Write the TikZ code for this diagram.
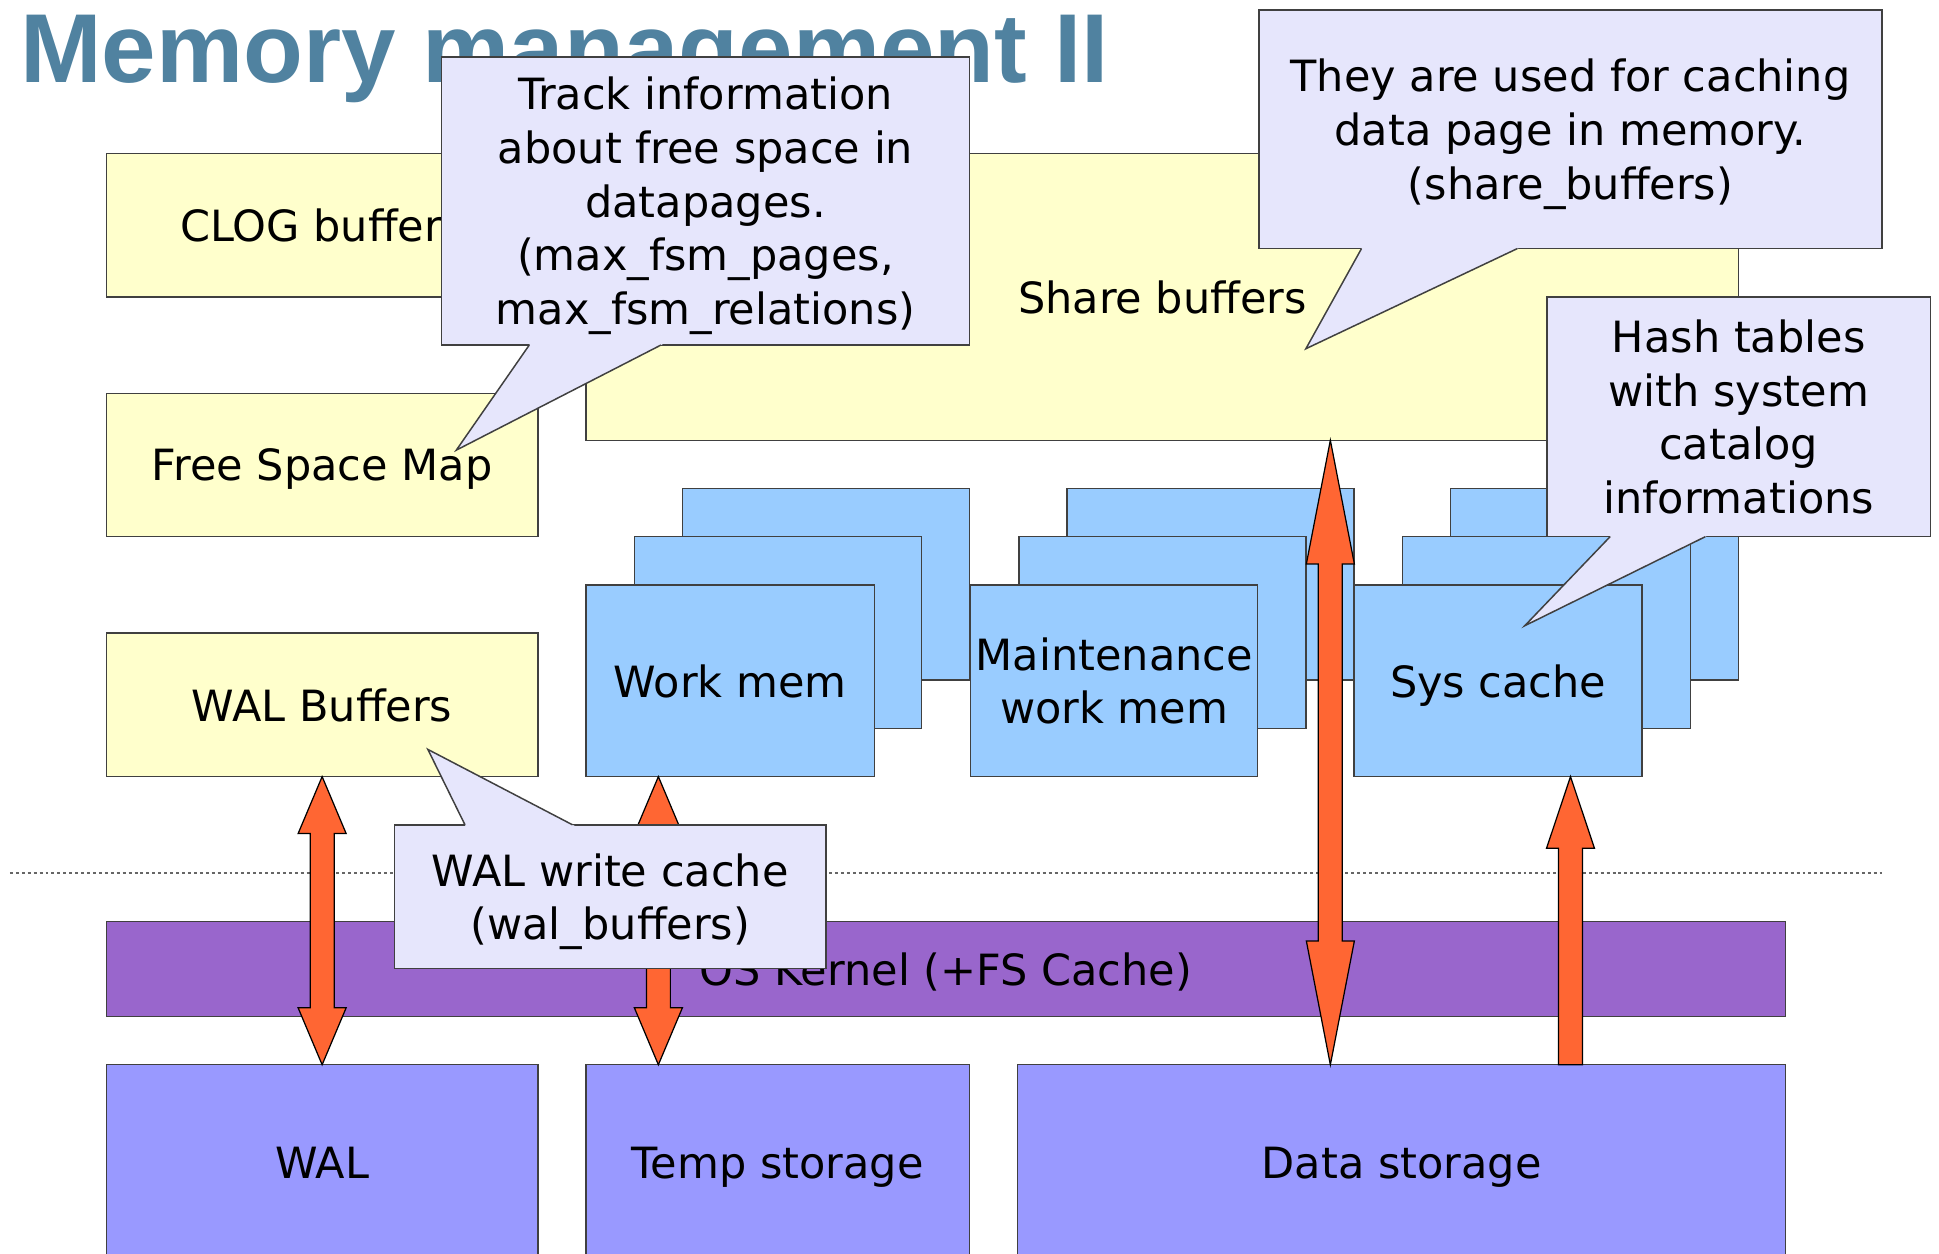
\documentclass[tikz,border=0pt]{standalone}
\usepackage{fontspec}
\setmainfont{DejaVu Sans}
\newfontfamily\titlefont{Liberation Sans}
\usetikzlibrary{calc}
\definecolor{titleblue}{RGB}{80,130,160}
\definecolor{ybg}{RGB}{255,255,204}
\definecolor{bbg}{RGB}{153,204,255}
\definecolor{kbg}{RGB}{153,102,204}
\definecolor{sbg}{RGB}{153,153,255}
\definecolor{cbg}{RGB}{230,230,252}
\definecolor{arrowc}{RGB}{255,102,51}
\tikzset{
  basebox/.style={draw=black!75, line width=0.6pt, inner sep=0pt, outer sep=0pt,
    align=center, text depth=0pt, font=\fontsize{17.4}{21.7}\selectfont},
  ybox/.style={basebox, fill=ybg},
  bbox/.style={basebox, fill=bbg},
  kbox/.style={basebox, fill=kbg},
  sbox/.style={basebox, fill=sbg},
  cbox/.style={basebox, fill=cbg},
  barrow/.style={fill=arrowc, draw=black, line width=0.5pt, line join=miter},
  tailline/.style={draw=black!75, line width=0.6pt, line join=miter},
  dotline/.style={draw=black!60, line width=0.6pt, dash pattern=on 1.2pt off 1.2pt},
}
% box: style, left, top, right, bottom, name, text (pixel units)
\newcommand\mybox[7]{\node[#1, minimum width={(#4-#2)*0.5pt}, minimum height={(#5-#3)*0.5pt}] (#6) at ({(#2+#4)/2},{(#3+#5)/2}) {#7};}
% callout tail: base x1, base x2, base y, tip x, tip y
\newcommand\calltail[5]{%
  \fill[cbg] (#4,#5) -- ($(#4,#5)!1.03!(#1,#3)$) -- ($(#4,#5)!1.03!(#2,#3)$) -- cycle;
  \draw[tailline] (#1,#3) -- (#4,#5) -- (#2,#3);}
% double block arrow: top point, bottom point, head length (px)
\newcommand\dblarrow[3]{%
  \draw[barrow] let \p1=(#1), \p2=(#2) in
    (\x1,\y1) -- ({\x1+9.7pt},{\y1-#3*0.5pt}) -- ({\x1+4.85pt},{\y1-#3*0.5pt})
    -- ({\x1+4.85pt},{\y2+#3*0.5pt}) -- ({\x1+9.7pt},{\y2+#3*0.5pt}) -- (\x1,\y2)
    -- ({\x1-9.7pt},{\y2+#3*0.5pt}) -- ({\x1-4.85pt},{\y2+#3*0.5pt})
    -- ({\x1-4.85pt},{\y1-#3*0.5pt}) -- ({\x1-9.7pt},{\y1-#3*0.5pt}) -- cycle;}
% single block arrow pointing up: tip point, base point, head length (px)
\newcommand\sglarrow[3]{%
  \draw[barrow] let \p1=(#1), \p2=(#2) in
    (\x1,\y1) -- ({\x1+9.7pt},{\y1-#3*0.5pt}) -- ({\x1+4.85pt},{\y1-#3*0.5pt})
    -- ({\x1+4.85pt},\y2) -- ({\x1-4.85pt},\y2)
    -- ({\x1-4.85pt},{\y1-#3*0.5pt}) -- ({\x1-9.7pt},{\y1-#3*0.5pt}) -- cycle;}
\begin{document}
\begin{tikzpicture}[x=0.5pt,y=-0.5pt]
\useasboundingbox (0,0) rectangle (1568,1014);
% title
\node[anchor=base west, inner sep=0pt, text=titleblue,
  font=\titlefont\bfseries\fontsize{39.6}{48}\selectfont] (title) at (16,67) {Memory management II};
% shared memory boxes
\mybox{ybox}{86}{124}{435}{240}{clog}{CLOG buffers}
\mybox{ybox}{474}{124}{1406}{356}{sb}{Share buffers}
\mybox{ybox}{86}{318}{435}{434}{fsm}{Free Space Map}
\mybox{ybox}{86}{512}{435}{628}{wbuf}{WAL Buffers}
% stacks
\mybox{bbox}{552}{395}{784}{550}{wm3}{}
\mybox{bbox}{513}{434}{745}{589}{wm2}{}
\mybox{bbox}{474}{473}{707}{628}{wm1}{Work mem}
\mybox{bbox}{863}{395}{1095}{550}{mw3}{}
\mybox{bbox}{824}{434}{1056}{589}{mw2}{}
\mybox{bbox}{785}{473}{1017}{628}{mw1}{Maintenance\\work mem}
\mybox{bbox}{1173}{395}{1406}{550}{sc3}{}
\mybox{bbox}{1134}{434}{1367}{589}{sc2}{}
\mybox{bbox}{1095}{473}{1328}{628}{sc1}{Sys cache}
% dotted separator
\coordinate (dl) at (8,706);
\coordinate (dr) at (1522,706);
\draw[dotline] (dl) -- (dr);
% kernel and storage
\mybox{kbox}{86}{745}{1444}{822}{os}{OS Kernel (+FS Cache)}
\mybox{sbox}{86}{861}{435}{1019}{wal}{WAL}
\mybox{sbox}{474}{861}{784}{1019}{tmp}{Temp storage}
\mybox{sbox}{823}{861}{1444}{1019}{ds}{Data storage}
% arrows
\dblarrow{wbuf.south}{wal.north}{46}
\dblarrow{[xshift=29.2pt]wm1.south west}{tmp.north}{46}
\dblarrow{[xshift=300.9pt]sb.south west}{ds.north}{100}
\sglarrow{[xshift=87.5pt]sc1.south west}{ds.north}{58}
% callouts
\mybox{cbox}{357}{46}{784}{279}{c1}{Track information\\about free space in\\datapages.\\(max\_fsm\_pages,\\max\_fsm\_relations)}
\calltail{428}{534.5}{279}{369}{364}
\mybox{cbox}{1018}{8}{1522}{201}{c2}{They are used for caching\\data page in memory.\\(share\_buffers)}
\calltail{1101}{1227}{201}{1056}{282}
\mybox{cbox}{1251}{240}{1561}{434}{c3}{Hash tables\\with system\\catalog\\informations}
\calltail{1302}{1379}{434}{1233}{506}
\mybox{cbox}{319}{667}{668}{783}{c4}{WAL write cache\\(wal\_buffers)}
\calltail{376}{463}{667}{346}{606}
\end{tikzpicture}
\end{document}
